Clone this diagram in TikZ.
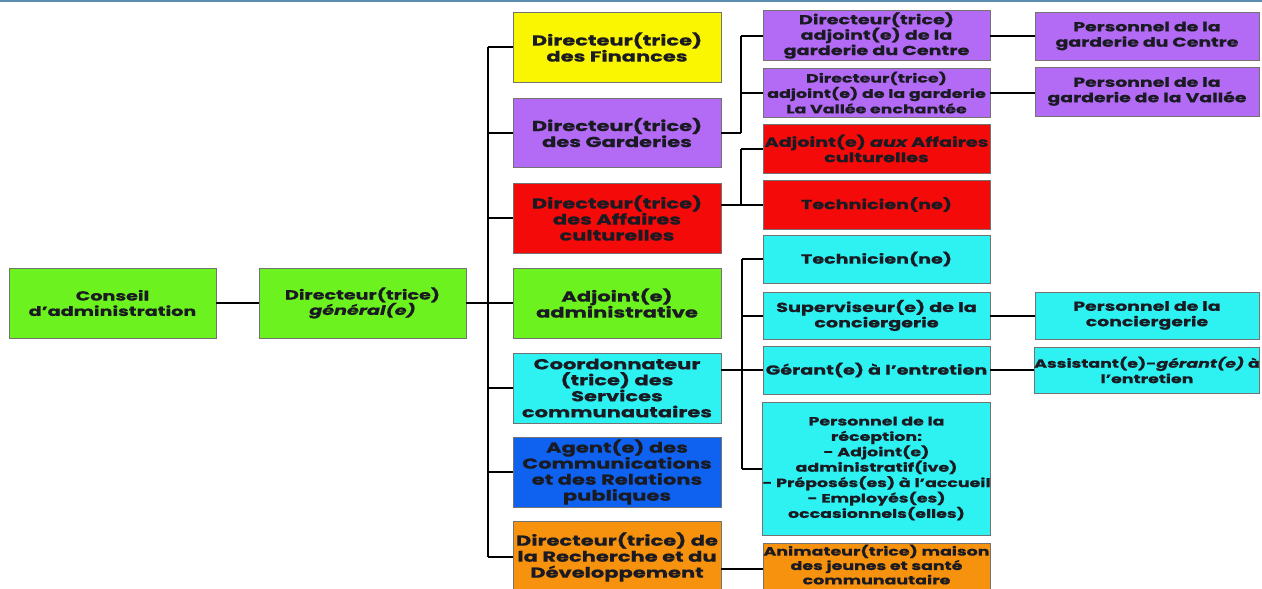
\documentclass[tikz,border=0pt]{standalone}
\usepackage{fontspec}
\setmainfont{Poppins}[FakeStretch=1.45, BoldFeatures={FakeBold=0.6}, BoldItalicFeatures={FakeBold=0.6}]
\definecolor{cgreen}{HTML}{6CF21E}
\definecolor{cyellow}{HTML}{FAF500}
\definecolor{cpurple}{HTML}{B36BF5}
\definecolor{cred}{HTML}{F50A0A}
\definecolor{ccyan}{HTML}{2EF2F2}
\definecolor{cblue}{HTML}{0F62F0}
\definecolor{corange}{HTML}{F7920F}
\definecolor{ctop}{HTML}{5B8CAF}
\definecolor{ctext}{HTML}{1A1A22}
\tikzset{
  box/.style={draw=black!55, line width=0.8pt, inner sep=0pt, align=center, anchor=center, text=ctext},
  big/.style={box, font=\fontsize{14.5}{16}\selectfont\bfseries, minimum width=208pt, minimum height=70pt},
  mid/.style={box, font=\fontsize{13.2}{15.4}\selectfont\bfseries, minimum width=227pt},
  side/.style={box, font=\fontsize{13}{15.4}\selectfont\bfseries, minimum width=224pt},
  first/.style={box, font=\fontsize{13.2}{15.4}\selectfont\bfseries, minimum width=207pt, minimum height=70pt},
  small/.style={font=\fontsize{12}{15.4}\selectfont\bfseries},
  link/.style={draw=black, line width=2pt},
}
\begin{document}
\begin{tikzpicture}[x=1pt,y=-1pt]
\useasboundingbox (0,0) rectangle (1262,589);
\clip (0,0) rectangle (1262,589);
\fill[white] (0,0) rectangle (1262,589);
\draw[ctop, line width=2pt] (0,0.5) -- (1262,0.5);

% column 1
\node[first, fill=cgreen] (cons) at (112.5,303) {Conseil\\d'administration};
\node[first, fill=cgreen] (dg) at (362.5,303) {Directeur(trice)\\{\itshape général(e)}};

% column 2
\node[big, fill=cyellow] (fin) at (617,47) {Directeur(trice)\\des Finances};
\node[big, fill=cpurple, minimum height=69pt] (gar) at (617,132.5) {Directeur(trice)\\des Garderies};
\node[big, fill=cred] (aff) at (617,218) {Directeur(trice)\\des Affaires\\culturelles};
\node[big, fill=cgreen] (adj) at (617,303) {Adjoint(e)\\administrative};
\node[big, fill=ccyan] (coo) at (617,388) {Coordonnateur\\(trice) des\\Services\\communautaires};
\node[big, fill=cblue] (age) at (617,472) {Agent(e) des\\Communications\\et des Relations\\publiques};
\node[big, fill=corange, minimum height=72pt] (rd) at (617,557) {Directeur(trice) de\\la Recherche et du\\Développement};

% column 3
\node[mid, fill=cpurple, minimum height=50pt] (adjc) at (876.5,35.5) {Directeur(trice)\\adjoint(e) de la\\garderie du Centre};
\node[mid, small, fill=cpurple, minimum height=49pt] (adjv) at (876.5,92.5) {Directeur(trice)\\adjoint(e) de la garderie\\La Vallée enchantée};
\node[mid, fill=cred, minimum height=49pt] (adjac) at (876.5,148.5) {Adjoint(e) {\itshape aux} Affaires\\culturelles};
\node[mid, fill=cred, minimum height=49pt] (techr) at (876.5,204.5) {Technicien(ne)};
\node[mid, fill=ccyan, minimum height=48pt] (techc) at (876.5,259) {Technicien(ne)};
\node[mid, fill=ccyan, minimum height=47pt] (sup) at (876.5,315.5) {Superviseur(e) de la\\conciergerie};
\node[mid, fill=ccyan, minimum height=48pt] (ger) at (876.5,370) {Gérant(e) à l'entretien};
\node[mid, small, fill=ccyan, minimum height=133pt] (recep) at (876.5,468.5) {Personnel de la\\réception:\\- Adjoint(e)\\administratif(ive)\\- Préposés(es) à l'accueil\\- Employés(es)\\occasionnels(elles)};
\node[mid, fill=corange, minimum height=52pt, text depth=9pt, font=\fontsize{12}{14.4}\selectfont\bfseries] (anim) at (876.5,569) {Animateur(trice) maison\\des jeunes et santé\\communautaire};

% column 4
\node[side, fill=cpurple, minimum height=48pt] (pc) at (1147,36) {Personnel de la\\garderie du Centre};
\node[side, fill=cpurple, minimum height=49pt] (pv) at (1147,91.5) {Personnel de la\\garderie de la Vallée};
\node[side, fill=ccyan, minimum height=47pt] (pconc) at (1147,315.5) {Personnel de la\\conciergerie};
\node[side, small, fill=ccyan, minimum height=46pt] (assist) at (1147,370) {Assistant(e)-{\itshape gérant(e)} à\\l'entretien};

% connectors
\coordinate (b1) at (488,303);
\coordinate (b2) at (741,0);
\coordinate (b4) at (742,0);
\draw[link] (cons.east) -- (dg.west);
\draw[link] (dg.east) -- (b1);
\draw[link] (b1 |- fin) -- (b1 |- rd);
\foreach \n in {fin,gar,aff,adj,coo,age,rd} \draw[link] (b1 |- \n) -- (\n.west);

\draw[link] (gar.east) -- (b2 |- gar);
\draw[link] (b2 |- adjc) -- (b2 |- gar);
\draw[link] (b2 |- adjc) -- (adjc.west);
\draw[link] (b2 |- adjv) -- (adjv.west);

\draw[link] (aff.east |- techr) -- (techr.west);
\draw[link] (b2 |- adjac) -- (b2 |- techr);
\draw[link] (b2 |- adjac) -- (adjac.west);

\draw[link] (coo.east |- ger) -- (ger.west);
\draw[link] (b4 |- techc) -- (b4 |- recep);
\draw[link] (b4 |- techc) -- (techc.west);
\draw[link] (b4 |- sup) -- (sup.west);
\draw[link] (b4 |- recep) -- (recep.west);

\draw[link] (rd.east |- anim) -- (anim.west);

\draw[link] (adjc.east) -- (adjc.east -| pc.west);
\draw[link] (adjv.east) -- (adjv.east -| pv.west);
\draw[link] (sup.east) -- (sup.east -| pconc.west);
\draw[link] (ger.east) -- (ger.east -| assist.west);
\end{tikzpicture}
\end{document}
